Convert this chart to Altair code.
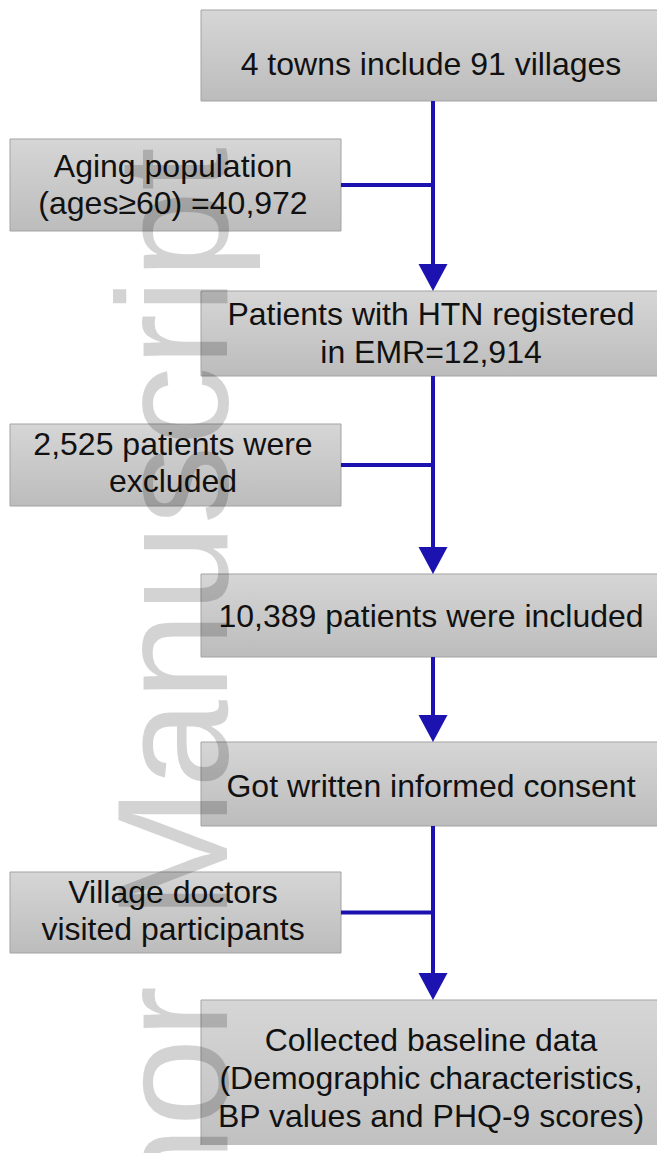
import altair as alt
import pandas as pd

# ---- content -------------------------------------------------------------
main_labels = [
    ["4 towns include 91 villages"],
    ["Patients with HTN registered", "in EMR=12,914"],
    ["10,389 patients were included"],
    ["Got written informed consent"],
    ["Collected baseline data", "(Demographic characteristics,", "BP values  and PHQ-9 scores)"],
]
side_labels = [
    ["Aging population", "(ages\u226560) =40,972"],
    ["2,525 patients were", "excluded"],
    ["Village doctors", "visited participants"],
]
watermark_words = ["Manuscript", "Author"]

# ---- layout (page pixels) -----------------------------------------------
main_x = (201, 663)
main_y = [(10, 101), (291, 376), (574, 657), (742, 826), (1000, 1175)]
main_first_baseline = [75, 325, 627, 797, 1051]
side_x = (10, 341)
side_y = [(139, 231), (424, 506), (872, 953)]
side_first_baseline = [177, 455, 903]
line_h = 38
spine_x = 433
head_w, head_h = 29, 27
wm_x = 227
wm_end_y = [147, 986]

BLUE = "#1B12B0"
FONT = "Liberation Sans"

# ---- tables ---------------------------------------------------------------
boxes = pd.DataFrame(
    [dict(x0=main_x[0], x1=main_x[1], y0=a, y1=b) for a, b in main_y]
    + [dict(x0=side_x[0], x1=side_x[1], y0=a, y1=b) for a, b in side_y]
)

text_rows = []
for lines, base in zip(main_labels, main_first_baseline):
    for i, t in enumerate(lines):
        text_rows.append(dict(x=431, y=base + i * line_h, label=t))
for lines, base in zip(side_labels, side_first_baseline):
    for i, t in enumerate(lines):
        text_rows.append(dict(x=173, y=base + i * (line_h - 1), label=t))
texts = pd.DataFrame(text_rows)

rule_rows, head_rows = [], []
for k in range(len(main_y) - 1):
    top = main_y[k][1]
    tip = main_y[k + 1][0]
    rule_rows.append(dict(x=spine_x, x2=spine_x, y=top, y2=tip - head_h + 2))
    head_rows.append(dict(x=spine_x, y=tip - head_h / 2))
for a, b in side_y:
    cy = (a + b) / 2
    rule_rows.append(dict(x=side_x[1], x2=spine_x + 2, y=cy, y2=cy))
rules = pd.DataFrame(rule_rows)
heads = pd.DataFrame(head_rows)

wm = pd.DataFrame(dict(x=[wm_x, wm_x], y=wm_end_y, label=watermark_words))

# ---- scales: data units are page pixels ---------------------------------
W, H = 649, 1137
xs = alt.Scale(domain=[8, 8 + W], nice=False, zero=False)
ys = alt.Scale(domain=[8, 8 + H], nice=False, zero=False, reverse=True)

grad = alt.Gradient(
    gradient="linear",
    stops=[alt.GradientStop(color="#d6d6d6", offset=0),
           alt.GradientStop(color="#bcbcbc", offset=1)],
    x1=0, x2=0, y1=0, y2=1,
)

box_layer = alt.Chart(boxes).mark_rect(
    color=grad, stroke="#a3a3a3", strokeWidth=1, clip=True
).encode(
    x=alt.X("x0:Q", scale=xs, axis=None), x2="x1:Q",
    y=alt.Y("y0:Q", scale=ys, axis=None), y2="y1:Q",
)

rule_layer = alt.Chart(rules).mark_rule(color=BLUE, strokeWidth=4).encode(
    x=alt.X("x:Q", scale=xs, axis=None), x2="x2:Q",
    y=alt.Y("y:Q", scale=ys, axis=None), y2="y2:Q",
)

r = head_h / head_w
tri = "M-1,-{0:.3f}L1,-{0:.3f}L0,{0:.3f}Z".format(r)
head_layer = alt.Chart(heads).mark_point(
    shape=tri, filled=True, color=BLUE, opacity=1, size=head_w * head_w, strokeWidth=0
).encode(
    x=alt.X("x:Q", scale=xs, axis=None),
    y=alt.Y("y:Q", scale=ys, axis=None),
)

text_layer = alt.Chart(texts).mark_text(
    font=FONT, fontSize=32, color="#111111", align="center", baseline="alphabetic"
).encode(
    x=alt.X("x:Q", scale=xs, axis=None),
    y=alt.Y("y:Q", scale=ys, axis=None),
    text="label:N",
)

wm_layer = alt.Chart(wm).mark_text(
    font=FONT, fontSize=158, color="#000000", opacity=0.17,
    angle=270, align="right", baseline="alphabetic",
).encode(
    x=alt.X("x:Q", scale=xs, axis=None),
    y=alt.Y("y:Q", scale=ys, axis=None),
    text="label:N",
)

chart = alt.layer(box_layer, rule_layer, head_layer, text_layer, wm_layer).properties(
    width=W, height=H, padding=0, background="white"
).configure_view(stroke=None)

chart.save("out.html", embed_options={"renderer": "svg", "actions": False})
